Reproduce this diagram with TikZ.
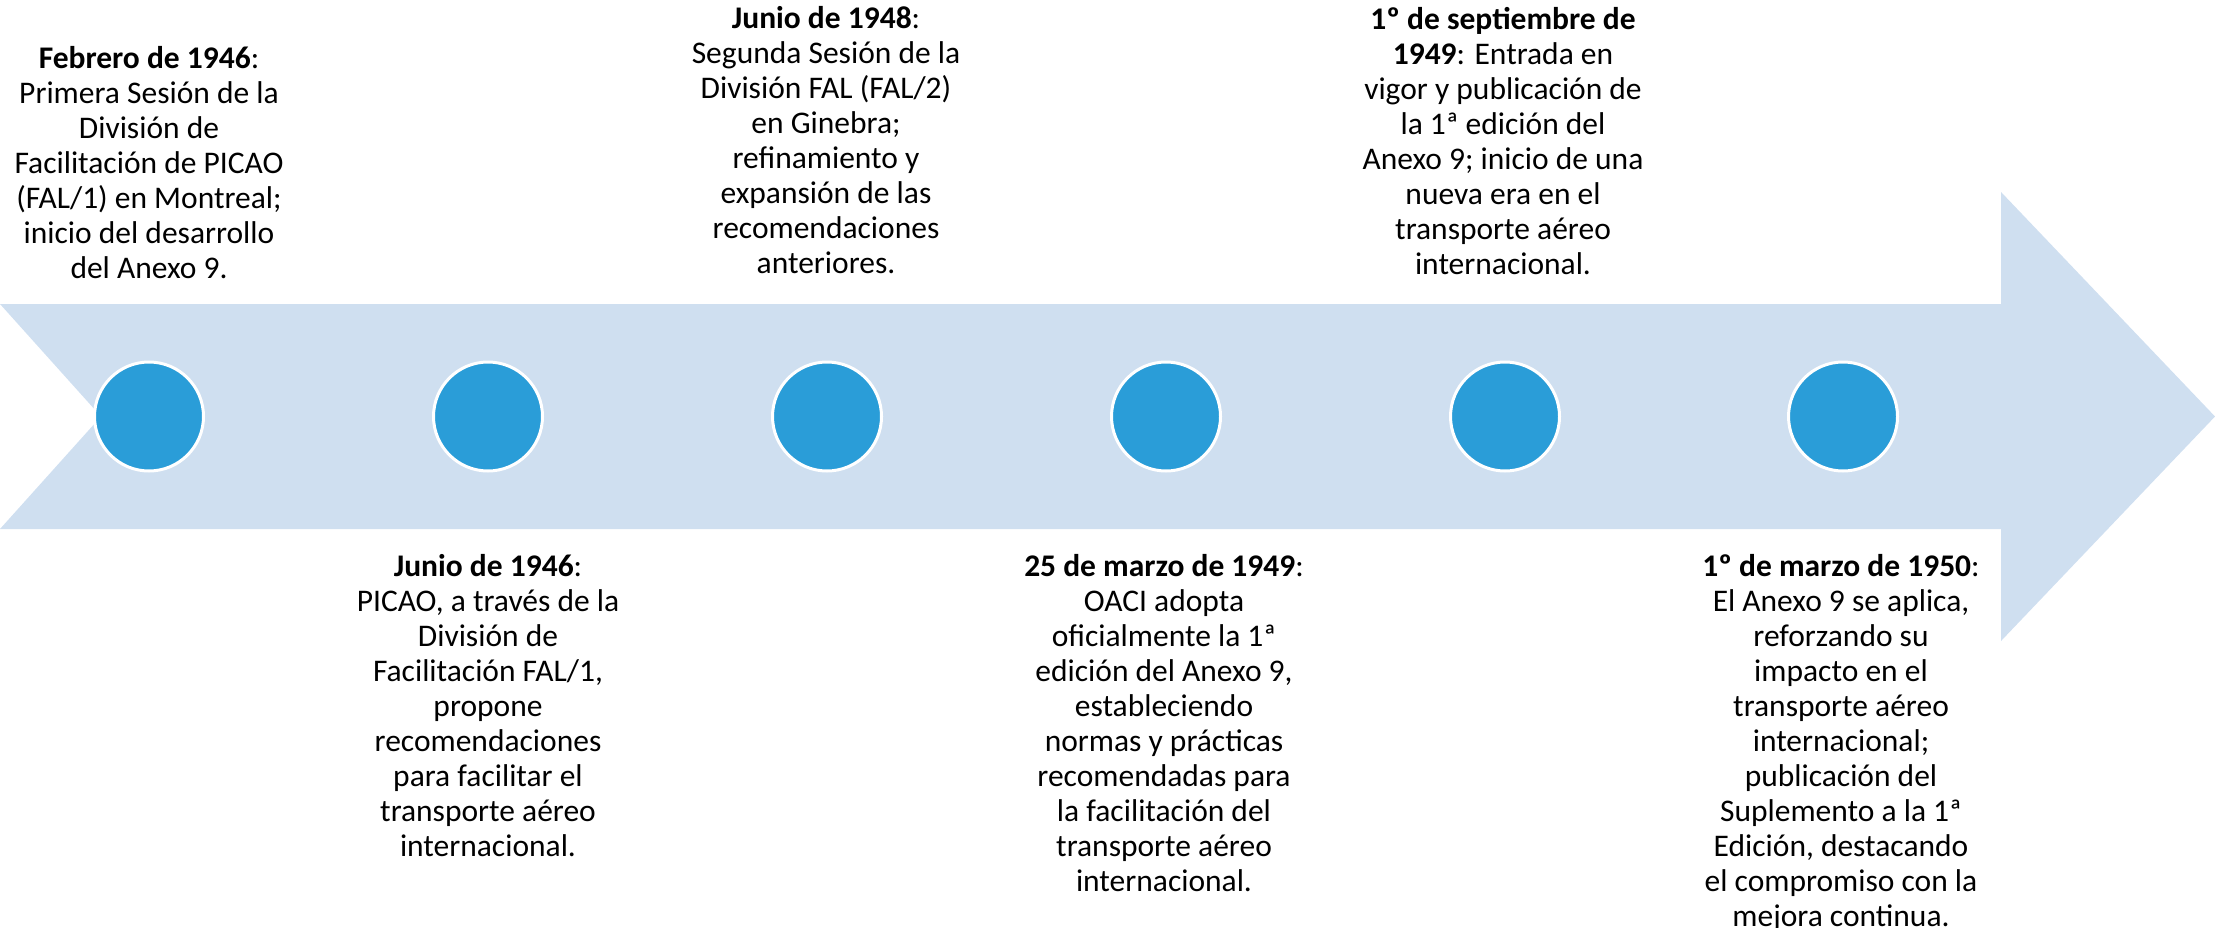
\documentclass[tikz,border=0pt]{standalone}
\usepackage{fontspec}
\setmainfont{Carlito}
\definecolor{arrowblue}{RGB}{207,223,240}
\definecolor{dotblue}{RGB}{42,157,216}
\begin{document}
\begin{tikzpicture}[x=1pt,y=-1pt,
  dot/.style={circle, fill=dotblue, draw=white, line width=3pt, minimum size=109pt, inner sep=0pt},
  txt/.style={align=center, font=\fontsize{31.5}{35}\selectfont, inner sep=0pt, text=black, anchor=north}]
\useasboundingbox (0,0) rectangle (2215,928);
% notched arrow
\fill[arrowblue] (0,304) -- (2001,304) -- (2001,192) -- (2215,416.5) -- (2001,641)
  -- (2001,529) -- (0,529) -- (101,416.5) -- cycle;
% dots
\node[dot] (c1) at (149,416.5) {};
\node[dot] (c2) at (488,416.5) {};
\node[dot] (c3) at (827,416.5) {};
\node[dot] (c4) at (1166,416.5) {};
\node[dot] (c5) at (1505,416.5) {};
\node[dot] (c6) at (1843,416.5) {};
% texts above
\node[txt] (t1) at (149,43.5) {\strut\textbf{Febrero de 1946}:\\Primera Sesión de la\\División de\\Facilitación de PICAO\\(FAL/1) en Montreal;\\inicio del desarrollo\\del Anexo 9.};
\node[txt] (t3) at (826,3.5) {\strut\textbf{Junio de 1948}:\\Segunda Sesión de la\\División FAL (FAL/2)\\en Ginebra;\\refinamiento y\\expansión de las\\recomendaciones\\anteriores.};
\node[txt] (t5) at (1503,4.5) {\strut\textbf{1º de septiembre de}\\\textbf{1949}: Entrada en\\vigor y publicación de\\la 1ª edición del\\Anexo 9; inicio de una\\nueva era en el\\transporte aéreo\\internacional.};
% texts below
\node[txt] (t2) at (488,551.5) {\strut\textbf{Junio de 1946}:\\PICAO, a través de la\\División de\\Facilitación FAL/1,\\propone\\recomendaciones\\para facilitar el\\transporte aéreo\\internacional.};
\node[txt] (t4) at (1164,551.5) {\strut\textbf{25 de marzo de 1949}:\\OACI adopta\\oficialmente la 1ª\\edición del Anexo 9,\\estableciendo\\normas y prácticas\\recomendadas para\\la facilitación del\\transporte aéreo\\internacional.};
\node[txt] (t6) at (1841,551.5) {\strut\textbf{1º de marzo de 1950}:\\El Anexo 9 se aplica,\\reforzando su\\impacto en el\\transporte aéreo\\internacional;\\publicación del\\Suplemento a la 1ª\\Edición, destacando\\el compromiso con la\\mejora continua.};
\end{tikzpicture}
\end{document}
